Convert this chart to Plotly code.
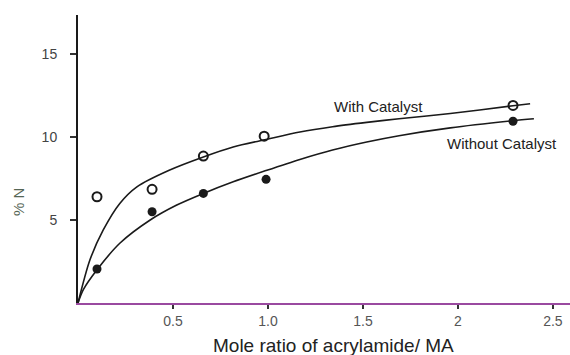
import plotly.graph_objects as go

# Data
x_with = [0.1, 0.39, 0.66, 0.98, 2.29]
y_with = [6.4, 6.85, 8.85, 10.05, 11.9]
x_without = [0.1, 0.39, 0.66, 0.99, 2.29]
y_without = [2.05, 5.5, 6.6, 7.45, 10.95]

# Fitted curves
cx_with = [0.0, 0.063, 0.133, 0.22, 0.31, 0.48, 0.66, 0.817, 0.99, 1.168, 1.34, 1.52, 1.69, 1.96, 2.29, 2.38]
cy_with = [0.0, 2.6, 4.4, 6.0, 7.0, 8.0, 8.8, 9.4, 9.85, 10.3, 10.62, 10.88, 11.1, 11.42, 11.88, 12.0]
cx_without = [0.0, 0.028, 0.1, 0.22, 0.38, 0.52, 0.66, 0.817, 0.99, 1.168, 1.34, 1.52, 1.69, 1.96, 2.29, 2.4]
cy_without = [0.0, 0.8, 2.0, 3.6, 5.0, 5.9, 6.6, 7.3, 7.98, 8.65, 9.22, 9.7, 10.08, 10.55, 10.98, 11.1]

x_tickvals = [0.5, 1.0, 1.5, 2.0, 2.5]
x_ticktext = ["0.5", "1.0", "1.5", "2", "2.5"]
y_tickvals = [5, 10, 15]

FONT = "Liberation Sans, Arial, Helvetica, sans-serif"

fig = go.Figure()
fig.add_trace(go.Scatter(x=cx_with, y=cy_with, mode="lines",
                         line=dict(color="#1a1a1a", width=1.6, shape="spline", smoothing=0.8),
                         hoverinfo="skip"))
fig.add_trace(go.Scatter(x=cx_without, y=cy_without, mode="lines",
                         line=dict(color="#1a1a1a", width=1.6, shape="spline", smoothing=0.8),
                         hoverinfo="skip"))
fig.add_trace(go.Scatter(x=x_with, y=y_with, mode="markers",
                         marker=dict(symbol="circle-open", size=9, color="#1a1a1a",
                                     line=dict(width=2, color="#1a1a1a"))))
fig.add_trace(go.Scatter(x=x_without, y=y_without, mode="markers",
                         marker=dict(symbol="circle", size=9, color="#1a1a1a")))

fig.add_annotation(x=1.58, y=11.85, text="With Catalyst", showarrow=False,
                   font=dict(family=FONT, size=15, color="#222"))
fig.add_annotation(x=2.23, y=9.62, text="Without Catalyst", showarrow=False,
                   font=dict(family=FONT, size=15, color="#222"))

# Axis titles placed as annotations (positions offset as in the reference)
fig.add_annotation(xref="paper", yref="paper", x=(333.5 - 78) / 492, y=-(345 - 303) / 288,
                   text="Mole ratio of acrylamide/ MA", showarrow=False,
                   xanchor="center", yanchor="middle",
                   font=dict(family=FONT, size=19, color="#222"))
fig.add_annotation(xref="paper", yref="paper", x=-(78 - 18) / 492, y=(303 - 202) / 288,
                   text="% N", showarrow=False, textangle=-90,
                   xanchor="center", yanchor="middle",
                   font=dict(family=FONT, size=15, color="#556655"))

fig.update_layout(
    width=570, height=355,
    margin=dict(l=78, r=0, t=15, b=52),
    paper_bgcolor="white", plot_bgcolor="white",
    showlegend=False,
    font=dict(family=FONT, size=14, color="#444"),
    xaxis=dict(range=[0, 2.59], tickvals=x_tickvals, ticktext=x_ticktext,
               showline=True, linecolor="#9a4aa0", linewidth=2,
               ticks="outside", ticklen=4, tickcolor="#333", tickwidth=1.5,
               showgrid=False, zeroline=False,
               tickfont=dict(family=FONT, size=14, color="#555")),
    yaxis=dict(range=[0, 17.35], tickvals=y_tickvals,
               showline=True, linecolor="#1a1a1a", linewidth=2,
               ticks="outside", ticklen=6, tickcolor="#333", tickwidth=1.5,
               ticklabelstandoff=10,
               showgrid=False, zeroline=False,
               tickfont=dict(family=FONT, size=14, color="#444")),
)

fig.write_html("out.html")
